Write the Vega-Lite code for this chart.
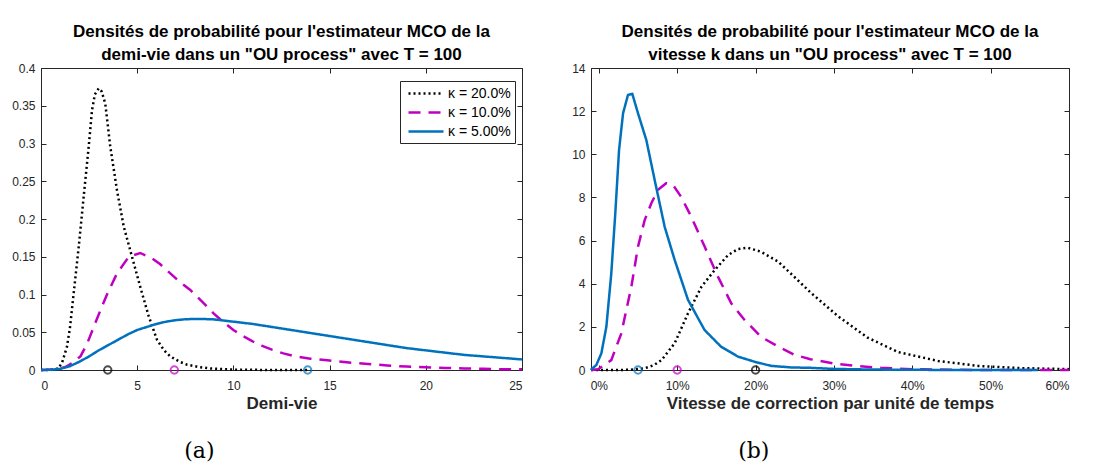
{
  "$schema": "https://vega.github.io/schema/vega-lite/v6.json",
  "background": "white",
  "padding": {"left": 11, "top": 22, "right": 5, "bottom": 5},
  "datasets": {
    "a_lines": [
      {"kappa": "κ = 20.0%", "x": 0, "y": 0},
      {"kappa": "κ = 20.0%", "x": 0.5, "y": 0},
      {"kappa": "κ = 20.0%", "x": 0.9, "y": 0.002},
      {"kappa": "κ = 20.0%", "x": 1.1, "y": 0.01},
      {"kappa": "κ = 20.0%", "x": 1.35, "y": 0.031},
      {"kappa": "κ = 20.0%", "x": 1.5, "y": 0.055},
      {"kappa": "κ = 20.0%", "x": 1.7, "y": 0.102},
      {"kappa": "κ = 20.0%", "x": 1.96, "y": 0.163},
      {"kappa": "κ = 20.0%", "x": 2.22, "y": 0.23},
      {"kappa": "κ = 20.0%", "x": 2.48, "y": 0.296},
      {"kappa": "κ = 20.0%", "x": 2.65, "y": 0.344},
      {"kappa": "κ = 20.0%", "x": 2.8, "y": 0.365},
      {"kappa": "κ = 20.0%", "x": 3.0, "y": 0.373},
      {"kappa": "κ = 20.0%", "x": 3.15, "y": 0.369},
      {"kappa": "κ = 20.0%", "x": 3.34, "y": 0.353},
      {"kappa": "κ = 20.0%", "x": 3.6, "y": 0.296},
      {"kappa": "κ = 20.0%", "x": 3.95, "y": 0.238},
      {"kappa": "κ = 20.0%", "x": 4.3, "y": 0.19},
      {"kappa": "κ = 20.0%", "x": 4.73, "y": 0.15},
      {"kappa": "κ = 20.0%", "x": 5.16, "y": 0.11},
      {"kappa": "κ = 20.0%", "x": 5.6, "y": 0.071},
      {"kappa": "κ = 20.0%", "x": 6.03, "y": 0.04},
      {"kappa": "κ = 20.0%", "x": 6.4, "y": 0.026},
      {"kappa": "κ = 20.0%", "x": 6.72, "y": 0.018},
      {"kappa": "κ = 20.0%", "x": 7.2, "y": 0.011},
      {"kappa": "κ = 20.0%", "x": 7.6, "y": 0.007},
      {"kappa": "κ = 20.0%", "x": 8.2, "y": 0.004},
      {"kappa": "κ = 20.0%", "x": 8.8, "y": 0.002},
      {"kappa": "κ = 20.0%", "x": 10, "y": 0.0005},
      {"kappa": "κ = 20.0%", "x": 12, "y": 0},
      {"kappa": "κ = 20.0%", "x": 14, "y": 0},
      {"kappa": "κ = 10.0%", "x": 0, "y": 0},
      {"kappa": "κ = 10.0%", "x": 0.8, "y": 0.001},
      {"kappa": "κ = 10.0%", "x": 1.27, "y": 0.004},
      {"kappa": "κ = 10.0%", "x": 1.6, "y": 0.009},
      {"kappa": "κ = 10.0%", "x": 2.05, "y": 0.018},
      {"kappa": "κ = 10.0%", "x": 2.4, "y": 0.035},
      {"kappa": "κ = 10.0%", "x": 2.74, "y": 0.057},
      {"kappa": "κ = 10.0%", "x": 3.1, "y": 0.08},
      {"kappa": "κ = 10.0%", "x": 3.43, "y": 0.1},
      {"kappa": "κ = 10.0%", "x": 3.95, "y": 0.128},
      {"kappa": "κ = 10.0%", "x": 4.56, "y": 0.15},
      {"kappa": "κ = 10.0%", "x": 5.16, "y": 0.155},
      {"kappa": "κ = 10.0%", "x": 5.77, "y": 0.148},
      {"kappa": "κ = 10.0%", "x": 6.2, "y": 0.14},
      {"kappa": "κ = 10.0%", "x": 6.72, "y": 0.128},
      {"kappa": "κ = 10.0%", "x": 7.2, "y": 0.117},
      {"kappa": "κ = 10.0%", "x": 7.76, "y": 0.106},
      {"kappa": "κ = 10.0%", "x": 8.4, "y": 0.09},
      {"kappa": "κ = 10.0%", "x": 8.97, "y": 0.075},
      {"kappa": "κ = 10.0%", "x": 9.5, "y": 0.063},
      {"kappa": "κ = 10.0%", "x": 10, "y": 0.053},
      {"kappa": "κ = 10.0%", "x": 10.5, "y": 0.045},
      {"kappa": "κ = 10.0%", "x": 11, "y": 0.038},
      {"kappa": "κ = 10.0%", "x": 11.5, "y": 0.032},
      {"kappa": "κ = 10.0%", "x": 12, "y": 0.027},
      {"kappa": "κ = 10.0%", "x": 12.6, "y": 0.022},
      {"kappa": "κ = 10.0%", "x": 13.2, "y": 0.018},
      {"kappa": "κ = 10.0%", "x": 14, "y": 0.015},
      {"kappa": "κ = 10.0%", "x": 15, "y": 0.0125},
      {"kappa": "κ = 10.0%", "x": 16, "y": 0.01},
      {"kappa": "κ = 10.0%", "x": 17, "y": 0.008},
      {"kappa": "κ = 10.0%", "x": 18, "y": 0.006},
      {"kappa": "κ = 10.0%", "x": 19, "y": 0.0045},
      {"kappa": "κ = 10.0%", "x": 20, "y": 0.0035},
      {"kappa": "κ = 10.0%", "x": 21, "y": 0.0028},
      {"kappa": "κ = 10.0%", "x": 22, "y": 0.002},
      {"kappa": "κ = 10.0%", "x": 23, "y": 0.0015},
      {"kappa": "κ = 10.0%", "x": 24, "y": 0.001},
      {"kappa": "κ = 10.0%", "x": 25, "y": 0.001},
      {"kappa": "κ = 5.00%", "x": 0, "y": 0},
      {"kappa": "κ = 5.00%", "x": 0.5, "y": 0.0003},
      {"kappa": "κ = 5.00%", "x": 1, "y": 0.0015},
      {"kappa": "κ = 5.00%", "x": 1.5, "y": 0.005},
      {"kappa": "κ = 5.00%", "x": 2, "y": 0.011},
      {"kappa": "κ = 5.00%", "x": 2.5, "y": 0.018},
      {"kappa": "κ = 5.00%", "x": 3, "y": 0.026},
      {"kappa": "κ = 5.00%", "x": 3.5, "y": 0.033},
      {"kappa": "κ = 5.00%", "x": 4, "y": 0.04},
      {"kappa": "κ = 5.00%", "x": 4.5, "y": 0.047},
      {"kappa": "κ = 5.00%", "x": 5, "y": 0.053},
      {"kappa": "κ = 5.00%", "x": 5.5, "y": 0.057},
      {"kappa": "κ = 5.00%", "x": 6, "y": 0.061},
      {"kappa": "κ = 5.00%", "x": 6.5, "y": 0.064},
      {"kappa": "κ = 5.00%", "x": 7, "y": 0.066},
      {"kappa": "κ = 5.00%", "x": 7.5, "y": 0.0672},
      {"kappa": "κ = 5.00%", "x": 8, "y": 0.0676},
      {"kappa": "κ = 5.00%", "x": 8.5, "y": 0.0675},
      {"kappa": "κ = 5.00%", "x": 9, "y": 0.067},
      {"kappa": "κ = 5.00%", "x": 9.5, "y": 0.0655},
      {"kappa": "κ = 5.00%", "x": 10, "y": 0.064},
      {"kappa": "κ = 5.00%", "x": 11, "y": 0.061},
      {"kappa": "κ = 5.00%", "x": 12, "y": 0.057},
      {"kappa": "κ = 5.00%", "x": 13, "y": 0.053},
      {"kappa": "κ = 5.00%", "x": 14, "y": 0.049},
      {"kappa": "κ = 5.00%", "x": 15, "y": 0.045},
      {"kappa": "κ = 5.00%", "x": 16, "y": 0.041},
      {"kappa": "κ = 5.00%", "x": 17, "y": 0.037},
      {"kappa": "κ = 5.00%", "x": 18, "y": 0.033},
      {"kappa": "κ = 5.00%", "x": 19, "y": 0.029},
      {"kappa": "κ = 5.00%", "x": 20, "y": 0.026},
      {"kappa": "κ = 5.00%", "x": 21, "y": 0.023},
      {"kappa": "κ = 5.00%", "x": 22, "y": 0.02},
      {"kappa": "κ = 5.00%", "x": 23, "y": 0.018},
      {"kappa": "κ = 5.00%", "x": 24, "y": 0.016},
      {"kappa": "κ = 5.00%", "x": 25, "y": 0.014}
    ],
    "a_pts": [
      {"kappa": "κ = 20.0%", "x": 3.47, "y": 0},
      {"kappa": "κ = 10.0%", "x": 6.93, "y": 0},
      {"kappa": "κ = 5.00%", "x": 13.86, "y": 0}
    ],
    "b_lines": [
      {"kappa": "κ = 20.0%", "x": -0.01, "y": 0},
      {"kappa": "κ = 20.0%", "x": 0.022, "y": 0},
      {"kappa": "κ = 20.0%", "x": 0.04, "y": 0.01},
      {"kappa": "κ = 20.0%", "x": 0.0585, "y": 0.08},
      {"kappa": "κ = 20.0%", "x": 0.07, "y": 0.22},
      {"kappa": "κ = 20.0%", "x": 0.08, "y": 0.46},
      {"kappa": "κ = 20.0%", "x": 0.0968, "y": 1.24},
      {"kappa": "κ = 20.0%", "x": 0.1138, "y": 2.63},
      {"kappa": "κ = 20.0%", "x": 0.131, "y": 3.86},
      {"kappa": "κ = 20.0%", "x": 0.148, "y": 4.64},
      {"kappa": "κ = 20.0%", "x": 0.165, "y": 5.33},
      {"kappa": "κ = 20.0%", "x": 0.1776, "y": 5.61},
      {"kappa": "κ = 20.0%", "x": 0.19, "y": 5.67},
      {"kappa": "κ = 20.0%", "x": 0.207, "y": 5.48},
      {"kappa": "κ = 20.0%", "x": 0.229, "y": 5.02},
      {"kappa": "κ = 20.0%", "x": 0.25, "y": 4.3},
      {"kappa": "κ = 20.0%", "x": 0.27, "y": 3.6},
      {"kappa": "κ = 20.0%", "x": 0.305, "y": 2.5},
      {"kappa": "κ = 20.0%", "x": 0.343, "y": 1.5},
      {"kappa": "κ = 20.0%", "x": 0.382, "y": 0.83},
      {"kappa": "κ = 20.0%", "x": 0.433, "y": 0.42},
      {"kappa": "κ = 20.0%", "x": 0.484, "y": 0.19},
      {"kappa": "κ = 20.0%", "x": 0.535, "y": 0.09},
      {"kappa": "κ = 20.0%", "x": 0.586, "y": 0.05},
      {"kappa": "κ = 20.0%", "x": 0.6, "y": 0.04},
      {"kappa": "κ = 10.0%", "x": -0.01, "y": 0},
      {"kappa": "κ = 10.0%", "x": -0.001, "y": 0.03},
      {"kappa": "κ = 10.0%", "x": 0.0159, "y": 0.46},
      {"kappa": "κ = 10.0%", "x": 0.0287, "y": 1.7},
      {"kappa": "κ = 10.0%", "x": 0.0415, "y": 3.86},
      {"kappa": "κ = 10.0%", "x": 0.05, "y": 5.72},
      {"kappa": "κ = 10.0%", "x": 0.0585, "y": 6.95},
      {"kappa": "κ = 10.0%", "x": 0.067, "y": 7.73},
      {"kappa": "κ = 10.0%", "x": 0.0755, "y": 8.35},
      {"kappa": "κ = 10.0%", "x": 0.086, "y": 8.66},
      {"kappa": "κ = 10.0%", "x": 0.0946, "y": 8.58},
      {"kappa": "κ = 10.0%", "x": 0.105, "y": 8.03},
      {"kappa": "κ = 10.0%", "x": 0.118, "y": 7.1},
      {"kappa": "κ = 10.0%", "x": 0.135, "y": 5.72},
      {"kappa": "κ = 10.0%", "x": 0.152, "y": 4.33},
      {"kappa": "κ = 10.0%", "x": 0.169, "y": 3.09},
      {"kappa": "κ = 10.0%", "x": 0.186, "y": 2.32},
      {"kappa": "κ = 10.0%", "x": 0.207, "y": 1.54},
      {"kappa": "κ = 10.0%", "x": 0.229, "y": 1.08},
      {"kappa": "κ = 10.0%", "x": 0.25, "y": 0.7},
      {"kappa": "κ = 10.0%", "x": 0.27, "y": 0.5},
      {"kappa": "κ = 10.0%", "x": 0.3, "y": 0.3},
      {"kappa": "κ = 10.0%", "x": 0.33, "y": 0.18},
      {"kappa": "κ = 10.0%", "x": 0.36, "y": 0.1},
      {"kappa": "κ = 10.0%", "x": 0.4, "y": 0.04},
      {"kappa": "κ = 10.0%", "x": 0.45, "y": 0.01},
      {"kappa": "κ = 10.0%", "x": 0.5, "y": 0},
      {"kappa": "κ = 10.0%", "x": 0.6, "y": 0},
      {"kappa": "κ = 5.00%", "x": -0.01, "y": 0},
      {"kappa": "κ = 5.00%", "x": -0.0096, "y": 0.03},
      {"kappa": "κ = 5.00%", "x": -0.0032, "y": 0.23},
      {"kappa": "κ = 5.00%", "x": 0.0032, "y": 0.77},
      {"kappa": "κ = 5.00%", "x": 0.0096, "y": 2.0},
      {"kappa": "κ = 5.00%", "x": 0.0159, "y": 4.48},
      {"kappa": "κ = 5.00%", "x": 0.021, "y": 7.26},
      {"kappa": "κ = 5.00%", "x": 0.0258, "y": 10.2},
      {"kappa": "κ = 5.00%", "x": 0.0309, "y": 11.9},
      {"kappa": "κ = 5.00%", "x": 0.0372, "y": 12.75},
      {"kappa": "κ = 5.00%", "x": 0.0427, "y": 12.8},
      {"kappa": "κ = 5.00%", "x": 0.05, "y": 11.9},
      {"kappa": "κ = 5.00%", "x": 0.0606, "y": 10.66},
      {"kappa": "κ = 5.00%", "x": 0.0713, "y": 8.8},
      {"kappa": "κ = 5.00%", "x": 0.084, "y": 6.64},
      {"kappa": "κ = 5.00%", "x": 0.0968, "y": 5.1},
      {"kappa": "κ = 5.00%", "x": 0.1138, "y": 3.25},
      {"kappa": "κ = 5.00%", "x": 0.135, "y": 1.85},
      {"kappa": "κ = 5.00%", "x": 0.156, "y": 1.08},
      {"kappa": "κ = 5.00%", "x": 0.1776, "y": 0.62},
      {"kappa": "κ = 5.00%", "x": 0.199, "y": 0.38},
      {"kappa": "κ = 5.00%", "x": 0.22, "y": 0.19},
      {"kappa": "κ = 5.00%", "x": 0.2455, "y": 0.12},
      {"kappa": "κ = 5.00%", "x": 0.27, "y": 0.1},
      {"kappa": "κ = 5.00%", "x": 0.3, "y": 0.05},
      {"kappa": "κ = 5.00%", "x": 0.35, "y": 0.02},
      {"kappa": "κ = 5.00%", "x": 0.4, "y": 0.01},
      {"kappa": "κ = 5.00%", "x": 0.45, "y": 0},
      {"kappa": "κ = 5.00%", "x": 0.56, "y": 0}
    ],
    "b_pts": [
      {"kappa": "κ = 20.0%", "x": 0.2, "y": 0},
      {"kappa": "κ = 10.0%", "x": 0.1, "y": 0},
      {"kappa": "κ = 5.00%", "x": 0.05, "y": 0}
    ]
  },
  "spacing": 43,
  "hconcat": [
    {
      "title": {"text": "(a)", "orient": "bottom", "anchor": "middle", "dx": -70, "offset": 29, "font": "DejaVu Serif", "fontSize": 22, "fontWeight": "normal", "color": "#000"},
      "vconcat": [
        {
          "width": 481,
          "height": 302,
          "title": {"text": ["Densités de probabilité pour l'estimateur MCO de la", "demi-vie dans un \"OU process\" avec T = 100"]},
          "layer": [
            {
              "data": {"name": "a_lines"},
              "mark": {"type": "line", "strokeWidth": 2.5},
              "encoding": {
                "x": {"field": "x", "type": "quantitative", "scale": {"domain": [0, 25], "nice": false, "zero": false}, "axis": {"values": [0, 5, 10, 15, 20, 25], "title": "Demi-vie", "labelPadding": 15.5}},
                "y": {"field": "y", "type": "quantitative", "scale": {"domain": [0, 0.4], "nice": false}, "axis": {"values": [0, 0.05, 0.1, 0.15, 0.2, 0.25, 0.3, 0.35, 0.4], "format": "~g", "title": null, "labelPadding": 11}},
                "color": {"field": "kappa", "type": "nominal", "scale": {"domain": ["κ = 20.0%", "κ = 10.0%", "κ = 5.00%"], "range": ["#000000", "#c000c0", "#0072bd"]}, "legend": {"title": null, "orient": "none", "legendX": 359, "legendY": 13}},
                "strokeDash": {"field": "kappa", "type": "nominal", "scale": {"domain": ["κ = 20.0%", "κ = 10.0%", "κ = 5.00%"], "range": [[2, 3], [12, 8], [1, 0]]}, "legend": {"title": null, "orient": "none", "legendX": 359, "legendY": 13}}
              }
            },
            {
              "data": {"name": "a_pts"},
              "mark": {"type": "point", "filled": false, "size": 55, "strokeWidth": 2, "clip": false},
              "encoding": {
                "x": {"field": "x", "type": "quantitative", "axis": {"orient": "top", "values": [0, 5, 10, 15, 20, 25], "labels": false, "title": null, "domain": false}},
                "y": {"field": "y", "type": "quantitative", "axis": {"orient": "right", "values": [0, 0.05, 0.1, 0.15, 0.2, 0.25, 0.3, 0.35, 0.4], "labels": false, "title": null, "domain": false}},
                "stroke": {"field": "kappa", "type": "nominal", "scale": {"domain": ["κ = 20.0%", "κ = 10.0%", "κ = 5.00%"], "range": ["#000000", "#c000c0", "#0072bd"]}, "legend": null}
              }
            }
          ],
          "resolve": {"axis": {"x": "independent", "y": "independent"}}
        }
      ]
    },
    {
      "title": {"text": "(b)", "orient": "bottom", "anchor": "middle", "dx": -69, "offset": 29, "font": "DejaVu Serif", "fontSize": 22, "fontWeight": "normal", "color": "#000"},
      "vconcat": [
        {
          "width": 478,
          "height": 302,
          "title": {"text": ["Densités de probabilité pour l'estimateur MCO de la", "vitesse k dans un \"OU process\" avec T = 100"]},
          "layer": [
            {
              "data": {"name": "b_lines"},
              "mark": {"type": "line", "strokeWidth": 2.5},
              "encoding": {
                "x": {"field": "x", "type": "quantitative", "scale": {"domain": [-0.01, 0.6], "nice": false, "zero": false}, "axis": {"values": [0, 0.1, 0.2, 0.3, 0.4, 0.5, 0.6], "format": ".0%", "title": "Vitesse de correction par unité de temps", "labelPadding": 15.5}},
                "y": {"field": "y", "type": "quantitative", "scale": {"domain": [0, 14], "nice": false}, "axis": {"values": [0, 2, 4, 6, 8, 10, 12, 14], "title": null, "labelPadding": 11}},
                "color": {"field": "kappa", "type": "nominal", "scale": {"domain": ["κ = 20.0%", "κ = 10.0%", "κ = 5.00%"], "range": ["#000000", "#c000c0", "#0072bd"]}, "legend": {"title": null, "orient": "none", "legendX": 352, "legendY": 13}},
                "strokeDash": {"field": "kappa", "type": "nominal", "scale": {"domain": ["κ = 20.0%", "κ = 10.0%", "κ = 5.00%"], "range": [[2, 3], [12, 8], [1, 0]]}, "legend": {"title": null, "orient": "none", "legendX": 352, "legendY": 13}}
              }
            },
            {
              "data": {"name": "b_pts"},
              "mark": {"type": "point", "filled": false, "size": 55, "strokeWidth": 2, "clip": false},
              "encoding": {
                "x": {"field": "x", "type": "quantitative", "axis": {"orient": "top", "values": [0, 0.1, 0.2, 0.3, 0.4, 0.5, 0.6], "labels": false, "title": null, "domain": false}},
                "y": {"field": "y", "type": "quantitative", "axis": {"orient": "right", "values": [0, 2, 4, 6, 8, 10, 12, 14], "labels": false, "title": null, "domain": false}},
                "stroke": {"field": "kappa", "type": "nominal", "scale": {"domain": ["κ = 20.0%", "κ = 10.0%", "κ = 5.00%"], "range": ["#000000", "#c000c0", "#0072bd"]}, "legend": null}
              }
            }
          ],
          "resolve": {"axis": {"x": "independent", "y": "independent"}}
        }
      ]
    }
  ],
  "config": {
    "view": {"stroke": "#262626", "strokeWidth": 1},
    "title": {"font": "Liberation Sans", "fontSize": 17, "fontWeight": "bold", "color": "#000", "lineHeight": 23, "offset": -2, "anchor": "middle"},
    "axis": {"labelFont": "Liberation Sans", "labelFontSize": 12, "labelColor": "#262626", "domainColor": "#262626", "tickColor": "#262626", "tickSize": -5, "grid": false, "titleFont": "Liberation Sans", "titleFontSize": 17, "titleFontWeight": "bold", "titleColor": "#262626", "titlePadding": 4},
    "legend": {"labelFont": "Liberation Sans", "labelFontSize": 14, "labelColor": "#000", "strokeColor": "#262626", "fillColor": "#ffffff", "padding": 4, "rowPadding": 3, "symbolType": "M-0.57,0H4.43", "symbolSize": 196, "symbolStrokeWidth": 2.5, "labelOffset": 27}
  }
}
